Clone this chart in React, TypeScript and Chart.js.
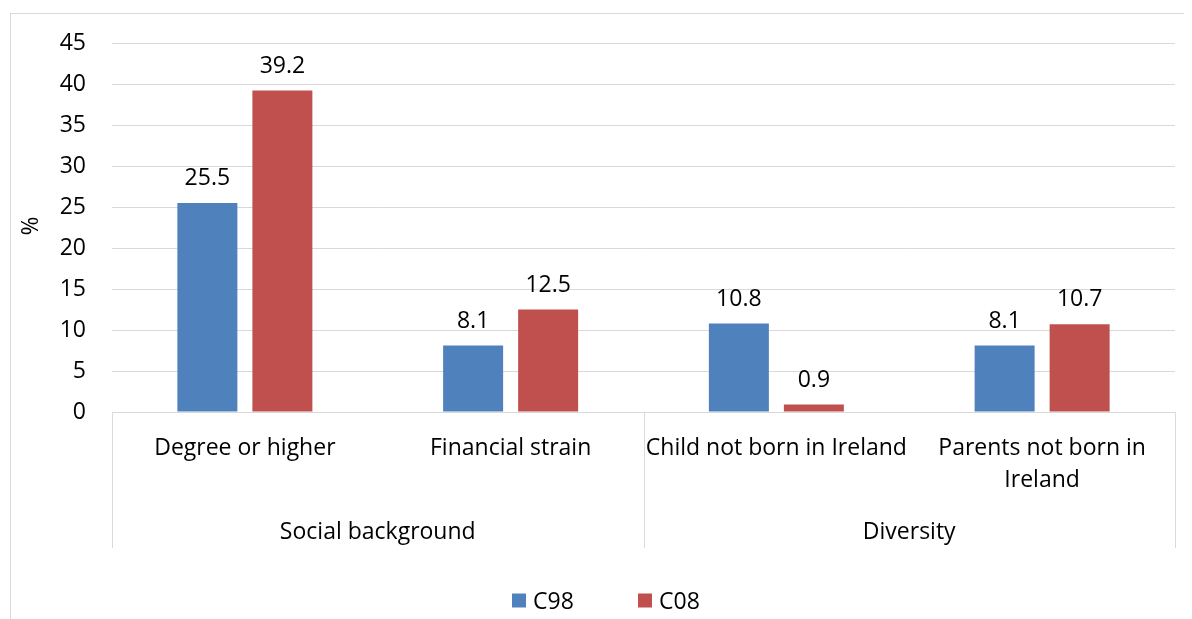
import React, { useEffect, useRef } from "react";
import { Chart, registerables } from "chart.js";

Chart.register(...registerables);

const categories: (string | string[])[] = [
  "Degree or higher",
  "Financial strain",
  "Child not born in Ireland",
  ["Parents not born in", "Ireland"],
];
const groups: string[] = ["Social background", "Diversity"];
const groupSizes: number[] = [2, 2];
const seriesNames: string[] = ["C98", "C08"];
const c98Values: number[] = [25.5, 8.1, 10.8, 8.1];
const c08Values: number[] = [39.2, 12.5, 0.9, 10.7];
const seriesColors: string[] = ["#4F81BD", "#C0504D"];
const yTitle = "%";

const FONT = "'Open Sans', sans-serif";
const FSIZE = 23;
const TEXT = "#000000";
const LINE = "#d9d9d9";

const overlay = {
  id: "overlay",
  afterDraw(chart: any) {
    const ctx = chart.ctx as CanvasRenderingContext2D;
    const area = chart.chartArea;
    const xs = chart.scales.x;
    const cap = FSIZE * 0.714;
    ctx.save();
    // chart border
    ctx.strokeStyle = LINE;
    ctx.lineWidth = 1;
    ctx.strokeRect(2.5, 5.5, 1300, 800);

    ctx.fillStyle = TEXT;
    ctx.font = `${FSIZE}px ${FONT}`;
    ctx.textBaseline = "alphabetic";

    // data labels
    chart.data.datasets.forEach((ds: any, di: number) => {
      const meta = chart.getDatasetMeta(di);
      meta.data.forEach((el: any, i: number) => {
        ctx.textAlign = "center";
        ctx.fillText(String(ds.data[i]), el.x, el.y - 26 + cap / 2);
      });
    });

    // category labels
    ctx.textAlign = "center";
    categories.forEach((lab, i) => {
      const x = xs.getPixelForValue(i);
      const lines = Array.isArray(lab) ? lab : [lab];
      lines.forEach((ln, k) => {
        ctx.fillText(ln, x, area.bottom + 34.5 + k * 32 + cap / 2);
      });
    });

    // separators + group labels
    ctx.strokeStyle = LINE;
    ctx.lineWidth = 1;
    const n = categories.length;
    const step = (area.right - area.left) / n;
    let idx = 0;
    const bounds: number[] = [area.left];
    groupSizes.forEach((s) => {
      idx += s;
      bounds.push(area.left + idx * step);
    });
    bounds.forEach((bx) => {
      const px = Math.round(bx) + 0.5;
      ctx.beginPath();
      ctx.moveTo(px, area.bottom);
      ctx.lineTo(px, area.bottom + 136);
      ctx.stroke();
    });
    groups.forEach((g, gi) => {
      const cx = (bounds[gi] + bounds[gi + 1]) / 2;
      ctx.fillText(g, cx, area.bottom + 119 + cap / 2);
    });

    // y title
    ctx.save();
    ctx.translate(22, 218);
    ctx.rotate(-Math.PI / 2);
    ctx.textAlign = "center";
    ctx.fillText(yTitle, 0, cap / 2);
    ctx.restore();

    // legend
    const legendX = [504, 630];
    const ly = 592.5;
    seriesNames.forEach((nm, i) => {
      ctx.fillStyle = seriesColors[i];
      ctx.fillRect(legendX[i], ly - 7, 14, 14);
      ctx.fillStyle = TEXT;
      ctx.textAlign = "left";
      ctx.fillText(nm, legendX[i] + 21, ly + cap / 2);
    });
    ctx.restore();
  },
};

export default function App() {
  const ref = useRef<HTMLCanvasElement | null>(null);
  useEffect(() => {
    if (!ref.current) return;
    const chart = new Chart(ref.current, {
      type: "bar",
      data: {
        labels: categories as any,
        datasets: [
          {
            label: seriesNames[0],
            data: c98Values,
            backgroundColor: seriesColors[0],
            categoryPercentage: 0.5645,
            barPercentage: 0.8,
          },
          {
            label: seriesNames[1],
            data: c08Values,
            backgroundColor: seriesColors[1],
            categoryPercentage: 0.5645,
            barPercentage: 0.8,
          },
        ],
      },
      options: {
        responsive: false,
        animation: false,
        layout: { padding: { top: 35, right: 9, bottom: 207, left: 0 } },
        plugins: { legend: { display: false }, tooltip: { enabled: false } },
        scales: {
          x: {
            type: "category",
            ticks: { display: false },
            grid: { display: false },
            border: { display: true, color: LINE, width: 1 },
            afterFit: (s: any) => {
              s.height = 0;
            },
          },
          y: {
            min: 0,
            max: 45,
            ticks: {
              stepSize: 5,
              padding: 26,
              color: TEXT,
              font: { family: FONT, size: FSIZE },
            },
            grid: { color: LINE, lineWidth: 1, drawTicks: false },
            border: { display: false },
            afterFit: (s: any) => {
              s.width = 104;
              s.paddingTop = 0;
              s.paddingBottom = 0;
            },
          },
        },
      },
      plugins: [overlay],
    });
    return () => chart.destroy();
  }, []);
  return (
    <div style={{ width: 1176, height: 611 }}>
      <canvas ref={ref} width={1176} height={611} style={{ display: "block" }} />
    </div>
  );
}
